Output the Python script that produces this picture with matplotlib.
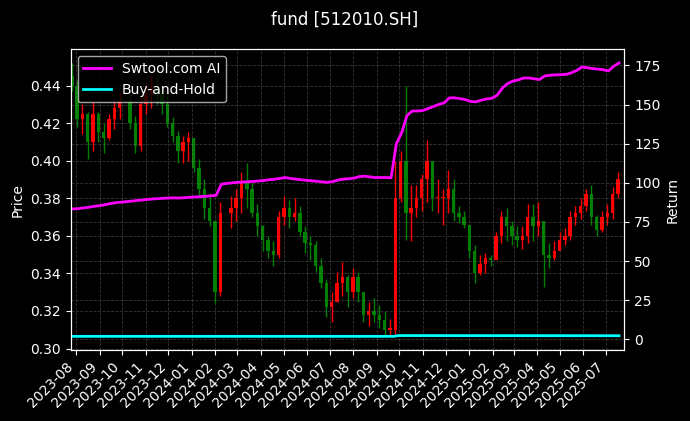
import numpy as np
import pandas as pd
import matplotlib
matplotlib.use("Agg")
import matplotlib.pyplot as plt
import matplotlib.dates as mdates

# weekly bars (Mondays, closed holiday weeks dropped)
closed_weeks = ["2023-10-02", "2024-02-12"]
first_open = 0.445
highs = [
    .452, .443, .430, .426, .431, .426, .420, .425, .433, .436,
    .437, .424, .434, .441, .445, .446, .440, .436, .423, .416,
    .413, .415, .412, .401, .390, .383, .368, .378,
    .381, .385, .394, .399, .388, .377, .366, .360, .357, .373,
    .381, .379, .380, .376, .365, .360, .357, .348, .337, .330,
    .341, .346, .339, .343, .341, .330, .325, .327, .323, .320,
    .316, .400, .405, .440, .387, .387, .393, .411, .395, .390,
    .385, .395, .390, .376, .373, .366, .355, .350, .351, .350,
    .362, .373, .375, .368, .365, .365, .377, .377, .378, .368,
    .356, .357, .362, .364, .373, .376, .380, .385, .387, .371,
    .373, .377, .386, .394,
]
lows = [
    .437, .418, .414, .401, .405, .410, .404, .411, .417, .422,
    .417, .404, .405, .425, .428, .430, .425, .418, .410, .399,
    .399, .400, .394, .380, .369, .365, .324, .328,
    .364, .368, .372, .375, .370, .360, .352, .348, .344, .348,
    .366, .364, .368, .360, .351, .347, .341, .332, .317, .314,
    .325, .328, .322, .327, .325, .314, .312, .314, .311, .307,
    .3065, .307, .378, .358, .357, .370, .373, .378, .373, .372,
    .366, .372, .368, .367, .364, .348, .335, .339, .340, .344,
    .348, .356, .357, .355, .354, .353, .356, .357, .360, .333,
    .343, .347, .353, .355, .358, .366, .369, .373, .366, .360,
    .362, .366, .369, .380,
]
closes = [
    .440, .422, .425, .410, .425, .415, .412, .422, .428, .432,
    .420, .408, .430, .435, .440, .436, .430, .420, .413, .405,
    .410, .412, .396, .385, .375, .368, .330, .372,
    .375, .380, .388, .385, .372, .365, .358, .352, .350, .370,
    .375, .370, .372, .362, .356, .355, .344, .335, .322, .325,
    .335, .338, .330, .338, .330, .318, .320, .318, .315, .310,
    .310, .380, .400, .372, .375, .380, .390, .400, .380, .380,
    .380, .385, .372, .370, .366, .352, .340, .345, .348, .347,
    .360, .370, .365, .360, .358, .360, .370, .365, .368, .350,
    .348, .352, .358, .360, .370, .372, .376, .382, .370, .363,
    .370, .372, .382, .390,
]
# strategy return, weekly
ai_return = [
    83.3, 83.5, 84.0, 84.4, 85.0, 85.4, 86.0, 86.7, 87.3, 87.6,
    88.3, 88.7, 89.0, 89.4, 89.7, 89.9, 90.1, 90.3, 90.4, 90.3,
    90.5, 90.8, 91.0, 91.2, 91.4, 91.7, 92.0, 99.2,
    100.0, 100.3, 100.5, 100.7, 100.9, 101.2, 101.5, 102.0, 102.3, 102.8,
    103.4, 102.8, 102.4, 102.0, 101.6, 101.3, 101.0, 100.6, 100.3, 100.8,
    101.8, 102.4, 102.6, 103.0, 104.0, 104.3, 103.8, 103.4, 103.4, 103.4,
    103.2, 125.0, 132.0, 143.0, 145.9, 145.9, 146.2, 147.5, 148.8, 150.1,
    151.1, 154.3, 154.3, 153.8, 153.2, 152.0, 151.8, 152.8, 153.6, 154.0,
    156.0, 160.5, 163.5, 165.0, 165.8, 167.0, 167.0, 166.5, 166.0, 168.3,
    168.8, 169.0, 169.1, 169.3, 170.3, 171.8, 174.0, 173.6, 173.0, 172.7,
    172.3, 171.5, 174.5, 176.6,
]
bh_dates = ["2023-07-25", "2024-09-23", "2024-09-30", "2025-07-18"]
bh_return = [1.9, 1.9, 2.4, 2.3]

weeks = pd.date_range("2023-07-24", periods=104, freq="W-MON")
weeks = weeks[~weeks.isin(pd.to_datetime(closed_weeks))]

opens = [first_open] + closes[:-1]
centers = mdates.date2num(weeks) + 2.5
fridays = mdates.date2num(weeks) + 4

plt.style.use("dark_background")
fig = plt.figure(figsize=(6.9, 4.21), dpi=100)
ax = fig.add_axes([0.1025, 0.1686, 0.8023, 0.7143])
ax2 = ax.twinx()

cols = ["red" if c >= o else "green" for o, c in zip(opens, closes)]
ax.vlines(centers, lows, highs, colors=cols, linewidth=1)
bottoms = [min(o, c) for o, c in zip(opens, closes)]
heights = [max(abs(c - o), 0.0008) for o, c in zip(opens, closes)]
ax.bar(centers, heights, bottom=bottoms, width=4.5, color=cols, linewidth=0)

ax2.plot(fridays, ai_return, color="#ff00ff", linewidth=2, label="Swtool.com AI")
ax2.plot(mdates.date2num(pd.to_datetime(bh_dates)), bh_return, color="#00ffff",
         linewidth=2, label="Buy-and-Hold")

ax.set_xlim(mdates.date2num(pd.Timestamp("2023-07-25")),
            mdates.date2num(pd.Timestamp("2025-07-25")))
ax.xaxis.set_major_locator(mdates.MonthLocator())
ax.xaxis.set_major_formatter(mdates.DateFormatter("%Y-%m"))
plt.setp(ax.get_xticklabels(), rotation=45, ha="right")

ax.set_ylabel("Price")
ax2.set_ylabel("Return")
ax.grid(True, linestyle="--", color="gray", alpha=0.4, linewidth=0.6)
ax2.grid(True, linestyle="--", color="gray", alpha=0.4, linewidth=0.6)

ax2.legend(loc="upper left")
fig.suptitle("fund [512010.SH]", fontsize=12, y=0.975)

fig.savefig("out.png", dpi=100, facecolor="black")
